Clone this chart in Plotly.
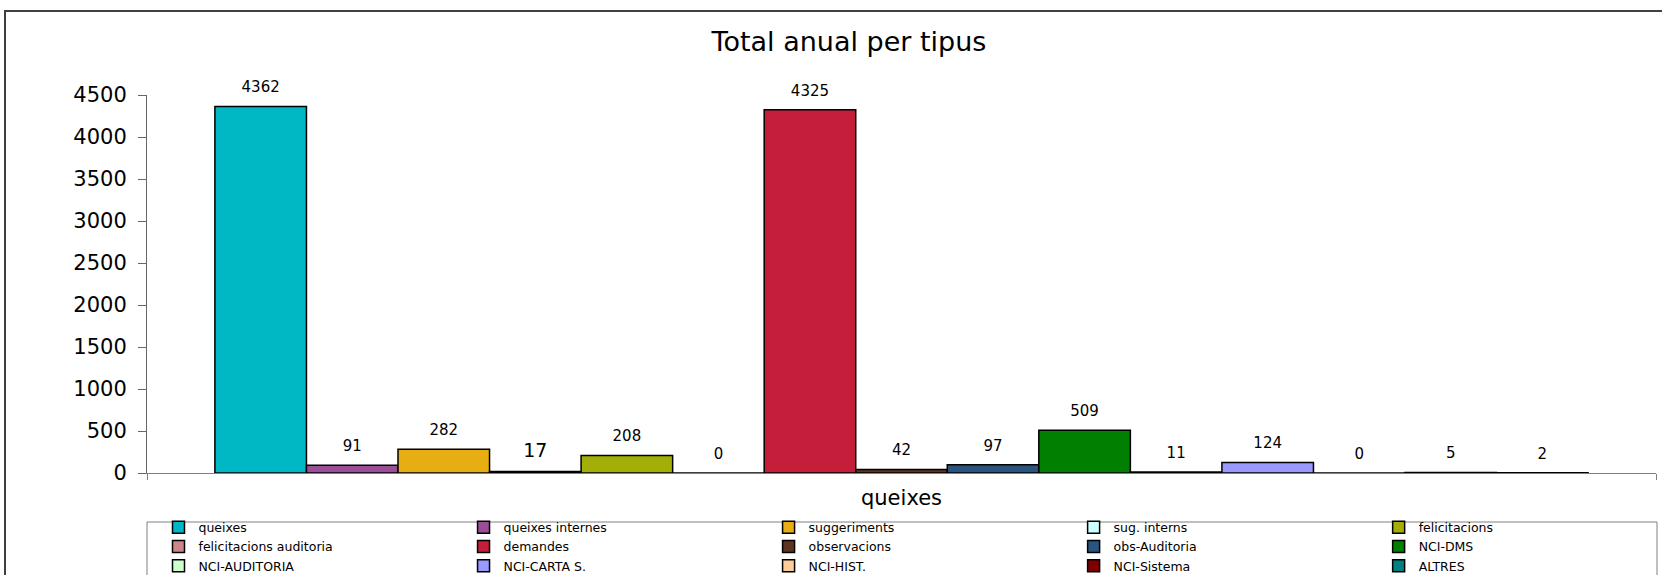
import plotly.graph_objects as go

# ---- data ----
categories = ["queixes"]
series_names = [
    "queixes", "queixes internes", "suggeriments", "sug. interns", "felicitacions",
    "felicitacions auditoria", "demandes", "observacions", "obs-Auditoria", "NCI-DMS",
    "NCI-AUDITORIA", "NCI-CARTA S.", "NCI-HIST.", "NCI-Sistema", "ALTRES",
]
series_values = [4362, 91, 282, 17, 208, 0, 4325, 42, 97, 509, 11, 124, 0, 5, 2]
series_colors = [
    "#00B7C4", "#9B4E97", "#E6AE12", "#CCFFFF", "#A3AF07",
    "#CC8888", "#C41E3A", "#5E3320", "#2A557E", "#007F00",
    "#CCFFCC", "#9999FF", "#FFCC99", "#800000", "#008080",
]
label_sizes = [15, 15, 15, 19, 15, 15, 15, 15, 15, 15, 15, 15, 15, 15, 15]
y_ticks = [0, 500, 1000, 1500, 2000, 2500, 3000, 3500, 4000, 4500]

FONT = "DejaVu Sans"
W, H = 1662, 575
ML, MR, MT, MB = 147, 6, 95, 102
PW = W - ML - MR
PH = H - MT - MB

fig = go.Figure()
for name, val, col, ls in zip(series_names, series_values, series_colors, label_sizes):
    fig.add_trace(go.Bar(
        name=name,
        x=categories,
        y=[val],
        marker=dict(color=col, line=dict(color="#000000", width=1.5)),
        text=[str(val)],
        texttemplate="<span style='font-size:%dpx'>%%{text}</span><br>\u00a0" % ls,
        textposition="outside",
        constraintext="none",
        textfont=dict(family=FONT, size=7, color="#000000"),
        cliponaxis=False,
        hoverinfo="skip",
    ))


def px_x(p):
    return (p - ML) / PW


def px_y(p):
    return (H - MB - p) / PH


shapes = [
    # outer chart frame
    dict(type="rect", xref="paper", yref="paper",
         x0=px_x(5), x1=px_x(1675), y0=px_y(11), y1=px_y(600),
         line=dict(color="#404040", width=2), fillcolor="rgba(0,0,0,0)", layer="below"),
    # legend box
    dict(type="rect", xref="paper", yref="paper",
         x0=px_x(147), x1=px_x(1657), y0=px_y(522), y1=px_y(600),
         line=dict(color="#808080", width=1), fillcolor="rgba(0,0,0,0)", layer="below"),
]

LEG_BW = 21
fig.update_layout(
    width=W, height=H,
    margin=dict(l=ML, r=MR, t=MT, b=MB, autoexpand=False),
    paper_bgcolor="white", plot_bgcolor="white",
    barmode="group", bargap=0.09, bargroupgap=0,
    font=dict(family=FONT, color="#000000"),
    title=dict(text="Total anual per tipus", x=849 / W, xanchor="center",
               xref="container", yref="container", y=1 - 42 / H, yanchor="middle",
               font=dict(family=FONT, size=27, color="#000000")),
    shapes=shapes,
    showlegend=True,
    legend=dict(
        orientation="h",
        xref="paper", yref="paper",
        x=px_x(137.5), xanchor="left",
        y=px_y(527 - 14.5 - LEG_BW), yanchor="top",
        entrywidthmode="fraction", entrywidth=0.1842,
        font=dict(family=FONT, size=12.5, color="#000000"),
        bgcolor="rgba(0,0,0,0)", bordercolor="rgba(0,0,0,0)", borderwidth=LEG_BW,
        traceorder="normal",
        itemclick=False, itemdoubleclick=False,
    ),
)

fig.update_yaxes(
    range=[0, 4500], tickvals=y_ticks, showgrid=False, zeroline=False,
    showline=True, linecolor="#666666", linewidth=1,
    ticks="outside", ticklen=8, tickcolor="#666666",
    tickfont=dict(family=FONT, size=21, color="#000000"),
    ticklabelstandoff=7,
)
fig.update_xaxes(
    type="category", showgrid=False, zeroline=False,
    showline=True, linecolor="#808080", linewidth=1,
    ticks="outside", ticklen=6, tickcolor="#808080", tickson="boundaries",
    tickfont=dict(family=FONT, size=21, color="#000000"),
    ticklabelstandoff=6,
)

fig.write_html("out.html", config={"displayModeBar": False},
               post_script="document.body.style.margin='0px';")
